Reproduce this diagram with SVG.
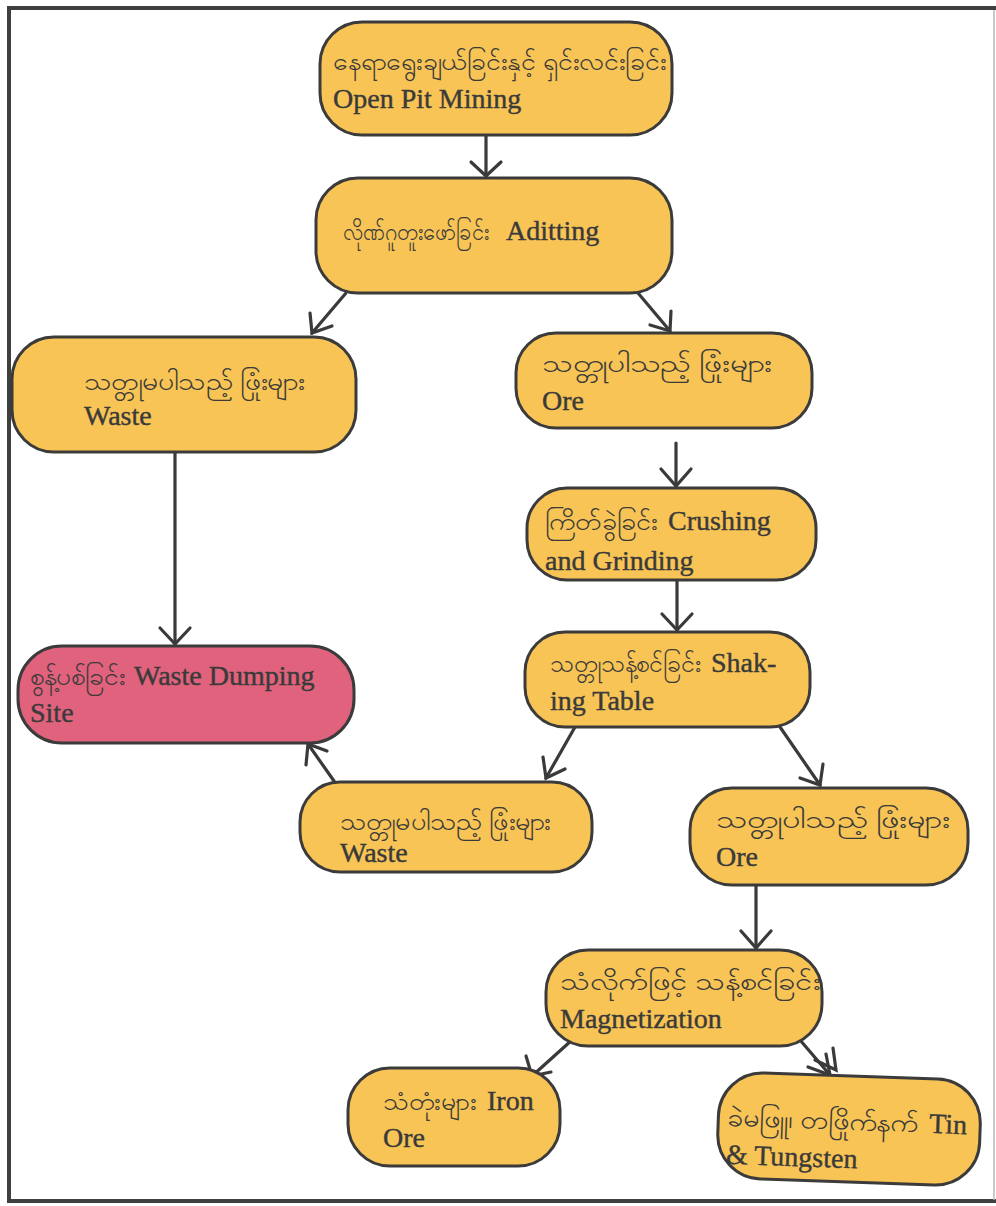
<svg xmlns="http://www.w3.org/2000/svg" width="996" height="1206" viewBox="0 0 996 1206">
<style>
.box{fill:#f8c455;stroke:#3b3b3b;stroke-width:3}
.pink{fill:#e0627c;stroke:#3b3b3b;stroke-width:3}
.t{font-family:"Liberation Serif","Noto Sans",serif;font-size:28px;fill:#3a3a3a;stroke:#3a3a3a;stroke-width:0.4}
.m{font-family:"Noto Sans","DejaVu Sans",sans-serif;font-size:25px;fill:#3a3a3a}
.c line,.c polyline{stroke:#3a3a3a;stroke-width:3.2;fill:none;stroke-linecap:round}
</style>
<rect width="996" height="1206" fill="#ffffff"/>
<g id="frame">
<path d="M996 8 L9 8 L9 1201 L996 1201" fill="none" stroke="#3f3f3f" stroke-width="4"/>
<line x1="994" y1="10" x2="994" y2="1200" stroke="#b8b8b8" stroke-width="1.5"/>
</g>
<g class="c" id="connectors">
<line x1="486" y1="135" x2="486" y2="176"/>
<line x1="346" y1="293" x2="312" y2="333"/>
<line x1="638" y1="293" x2="670" y2="331"/>
<line x1="175" y1="452" x2="175" y2="644"/>
<line x1="676" y1="443" x2="676" y2="486"/>
<line x1="677" y1="580" x2="677" y2="630"/>
<line x1="575" y1="727" x2="546" y2="778"/>
<line x1="780" y1="727" x2="820" y2="785"/>
<line x1="334" y1="781" x2="308" y2="744"/>
<line x1="756" y1="885" x2="756" y2="948"/>
<line x1="572" y1="1040" x2="532" y2="1076"/>
<line x1="800" y1="1040" x2="830" y2="1075"/>
<polyline points="471,162 486,176 501,162"/>
<polyline points="310,313 312,333 332,326"/>
<polyline points="650,325 670,331 671,311"/>
<polyline points="160,628 175,644 190,628"/>
<polyline points="661,469 676,486 691,469"/>
<polyline points="662,614 677,630 692,614"/>
<polyline points="543,757 546,778 565,769"/>
<polyline points="800,778 820,785 823,764"/>
<polyline points="306,765 308,744 327,751"/>
<polyline points="741,931 756,948 771,931"/>
<polyline points="526,1056 532,1076 551,1072"/>
<polyline points="808,1067 830,1075 826,1054"/>
<polyline points="815,1060 836,1070 833,1048"/>
</g>
<g id="n1">
<rect class="box" x="320" y="22" width="352" height="113" rx="42"/>
<text class="m" x="333" y="70" textLength="333" lengthAdjust="spacingAndGlyphs">နေရာရွေးချယ်ခြင်းနှင့် ရှင်းလင်းခြင်း</text>
<text class="t" x="333" y="108">Open Pit Mining</text>
</g>
<g id="n2">
<rect class="box" x="316" y="178" width="356" height="115" rx="42"/>
<text class="m" x="343" y="240" textLength="146" lengthAdjust="spacingAndGlyphs">လိုဏ်ဂူတူးဖော်ခြင်း</text>
<text class="t" x="506" y="240">Aditting</text>
</g>
<g id="n3">
<rect class="box" x="12" y="337" width="344" height="115" rx="42"/>
<text class="m" x="84" y="390" textLength="221" lengthAdjust="spacingAndGlyphs">သတ္တုမပါသည့် ဖြုံးများ</text>
<text class="t" x="84" y="425">Waste</text>
</g>
<g id="n4">
<rect class="box" x="516" y="333" width="296" height="95" rx="40"/>
<text class="m" x="542" y="372" textLength="230" lengthAdjust="spacingAndGlyphs">သတ္တုပါသည့် ဖြုံးများ</text>
<text class="t" x="542" y="410">Ore</text>
</g>
<g id="n5">
<rect class="box" x="527" y="488" width="289" height="92" rx="40"/>
<text class="m" x="545" y="530" textLength="113" lengthAdjust="spacingAndGlyphs">ကြိတ်ခွဲခြင်း</text>
<text class="t" x="668" y="530">Crushing</text>
<text class="t" x="545" y="570">and Grinding</text>
</g>
<g id="n6">
<rect class="box" x="525" y="632" width="285" height="95" rx="40"/>
<text class="m" x="550" y="672" textLength="151" lengthAdjust="spacingAndGlyphs">သတ္တုသန့်စင်ခြင်း</text>
<text class="t" x="711" y="672">Shak-</text>
<text class="t" x="550" y="710">ing Table</text>
</g>
<g id="n7">
<rect class="pink" x="18" y="646" width="336" height="97" rx="44"/>
<text class="m" x="30" y="685" textLength="95" lengthAdjust="spacingAndGlyphs">စွန့်ပစ်ခြင်း</text>
<text class="t" x="134" y="685">Waste Dumping</text>
<text class="t" x="30" y="722">Site</text>
</g>
<g id="n8">
<rect class="box" x="300" y="782" width="292" height="90" rx="40"/>
<text class="m" x="340" y="830" textLength="211" lengthAdjust="spacingAndGlyphs">သတ္တုမပါသည့် ဖြုံးများ</text>
<text class="t" x="340" y="862">Waste</text>
</g>
<g id="n9">
<rect class="box" x="690" y="788" width="278" height="97" rx="42"/>
<text class="m" x="716" y="828" textLength="234" lengthAdjust="spacingAndGlyphs">သတ္တုပါသည့် ဖြုံးများ</text>
<text class="t" x="716" y="866">Ore</text>
</g>
<g id="n10">
<rect class="box" x="546" y="950" width="276" height="96" rx="42"/>
<text class="m" x="560" y="990" textLength="260" lengthAdjust="spacingAndGlyphs">သံလိုက်ဖြင့် သန့်စင်ခြင်း</text>
<text class="t" x="560" y="1028">Magnetization</text>
</g>
<g id="n11">
<rect class="box" x="348" y="1068" width="212" height="98" rx="42"/>
<text class="m" x="383" y="1110" textLength="93" lengthAdjust="spacingAndGlyphs">သံတုံးများ</text>
<text class="t" x="487" y="1110">Iron</text>
<text class="t" x="383" y="1147">Ore</text>
</g>
<g id="n12" transform="rotate(2 849 1130)">
<rect class="box" x="718" y="1076" width="262" height="106" rx="44"/>
<text class="m" x="727" y="1130" textLength="191" lengthAdjust="spacingAndGlyphs">ခဲမဖြူ၊ တဖြိုက်နက်</text>
<text class="t" x="929" y="1130">Tin</text>
<text class="t" x="727" y="1168">&amp; Tungsten</text>
</g>
</svg>
